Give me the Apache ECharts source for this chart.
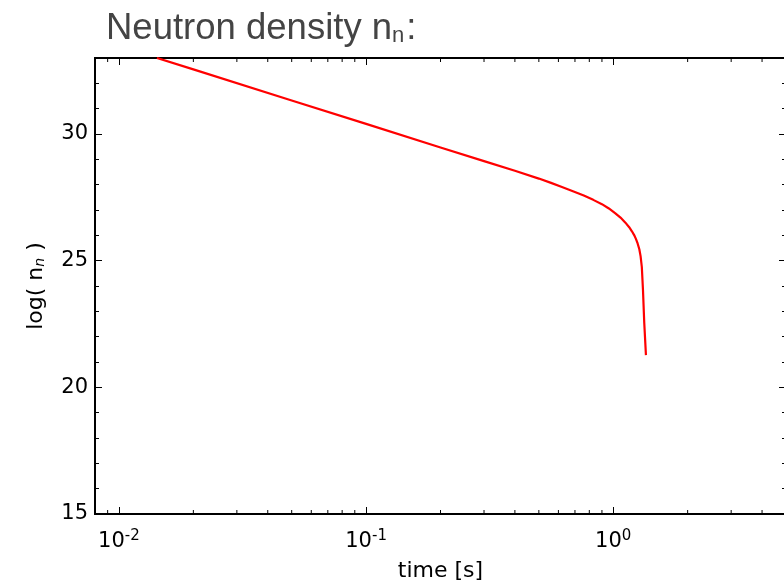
<!DOCTYPE html>
<html>
<head>
<meta charset="utf-8">
<script src="https://cdn.jsdelivr.net/npm/echarts@6/dist/echarts.min.js"></script>
<style>
html,body{margin:0;padding:0;background:#fff;}
#chart{width:784px;height:583px;}
</style>
</head>
<body>
<div id="chart"></div>
<script>
// time [s]
var times = [0.01425, 0.02, 0.05, 0.1, 0.2, 0.3, 0.4, 0.5, 0.56, 0.62, 0.691, 0.76, 0.83, 0.9, 0.96, 1.02, 1.07, 1.12, 1.16, 1.19, 1.215, 1.235, 1.255, 1.275, 1.29, 1.305, 1.319, 1.335, 1.356];
// log(n_n)
var logDensity = [33.0, 32.55, 31.32, 30.40, 29.47, 28.93, 28.55, 28.24, 28.07, 27.91, 27.73, 27.57, 27.40, 27.23, 27.06, 26.87, 26.70, 26.50, 26.32, 26.16, 26.01, 25.86, 25.68, 25.45, 25.18, 24.75, 23.85, 22.54, 21.27];
// log-axis minor tick positions
var xMinorTicks = [0.008, 0.009, 0.02, 0.03, 0.04, 0.05, 0.06, 0.07, 0.08, 0.09, 0.2, 0.3, 0.4, 0.5, 0.6, 0.7, 0.8, 0.9, 2, 3, 4, 5];
var xMin = 0.008, xMax = 5;
var yMin = 15, yMax = 33;

var FONT = 'DejaVu Sans';
var lineData = times.map(function (t, i) { return [t, logDensity[i]]; });

var chart = echarts.init(document.getElementById('chart'), null, {renderer: 'canvas'});

function logAxis(pos, showLabels, name) {
  return {
    type: 'log', position: pos, min: xMin, max: xMax, logBase: 10,
    name: name || '', nameLocation: 'middle', nameGap: 46,
    nameTextStyle: {fontFamily: FONT, fontSize: 22, color: '#000'},
    axisLine: {show: true, onZero: false, lineStyle: {color: '#000', width: 2}},
    axisTick: {show: true, inside: true, length: 7, lineStyle: {color: '#000', width: 1}},
    minorTick: {show: false},
    splitLine: {show: false},
    axisLabel: {
      show: showLabels, margin: 15, showMinLabel: false, showMaxLabel: false,
      formatter: function (v) {
        var e = Math.round(Math.log10(v));
        return '{b|10}{s|' + e + '}';
      },
      rich: {
        b: {fontFamily: FONT, fontSize: 21, color: '#000', lineHeight: 26},
        s: {fontFamily: FONT, fontSize: 15, color: '#000', verticalAlign: 'top', lineHeight: 26}
      }
    }
  };
}

function valAxis(pos, interval, len, showLabels, name) {
  return {
    type: 'value', position: pos, min: yMin, max: yMax, interval: interval,
    name: name || '', nameLocation: 'middle', nameGap: 48, nameRotate: 90,
    nameTextStyle: {
      fontFamily: FONT, fontSize: 22, color: '#000',
      rich: {
        a: {fontFamily: FONT, fontSize: 22, color: '#000'},
        s: {fontFamily: FONT, fontSize: 14, fontStyle: 'italic', color: '#000', verticalAlign: 'bottom'}
      }
    },
    axisLine: {show: true, lineStyle: {color: '#000', width: 2}},
    axisTick: {show: true, inside: true, length: len, lineStyle: {color: '#000', width: 1}},
    splitLine: {show: false},
    axisLabel: {show: showLabels, margin: 7, showMaxLabel: false, fontFamily: FONT, fontSize: 21, color: '#000'}
  };
}

var option = {
  animation: false,
  backgroundColor: '#fff',
  title: {
    text: '{t|Neutron density n}{s|n}{t|:}',
    left: 101, top: 5,
    textStyle: {
      rich: {
        t: {fontFamily: 'Liberation Sans', fontSize: 36.5, fontWeight: 'normal', color: '#444'},
        s: {fontFamily: 'Liberation Sans', fontSize: 22, fontWeight: 'normal', color: '#444', verticalAlign: 'bottom', padding: [0, 2, 0, 0]}
      }
    }
  },
  grid: {left: 95, top: 58, width: 691, bottom: 69, containLabel: false, outerBoundsMode: 'none'},
  xAxis: [logAxis('bottom', true, 'time [s]'), logAxis('top', false)],
  yAxis: [
    valAxis('left', 5, 7, true, '{a|log( n}{s|n}{a| )}'),
    valAxis('left', 1, 4, false),
    valAxis('right', 5, 7, false),
    valAxis('right', 1, 4, false)
  ],
  series: [
    {
      type: 'line', xAxisIndex: 0, yAxisIndex: 0,
      data: lineData, showSymbol: false, symbol: 'none',
      lineStyle: {color: '#ff0000', width: 2.2, join: 'round'}, clip: true, z: 5
    },
    {
      type: 'custom', xAxisIndex: 0, yAxisIndex: 0, clip: false, silent: true,
      data: xMinorTicks.map(function (t) { return [t]; }),
      renderItem: function (params, api) {
        var t = api.value(0);
        var b = api.coord([t, yMin]);
        var tp = api.coord([t, yMax]);
        return {
          type: 'group',
          children: [
            {type: 'line', shape: {x1: b[0], y1: b[1], x2: b[0], y2: b[1] - 4}, style: {stroke: '#000', lineWidth: 1}},
            {type: 'line', shape: {x1: tp[0], y1: tp[1], x2: tp[0], y2: tp[1] + 4}, style: {stroke: '#000', lineWidth: 1}}
          ]
        };
      }
    }
  ]
};
chart.setOption(option);
</script>
</body>
</html>
